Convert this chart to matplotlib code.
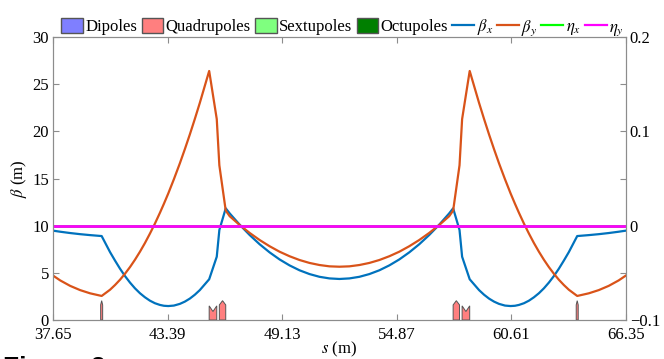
import matplotlib
matplotlib.use("Agg")
import matplotlib.pyplot as plt
from matplotlib.patches import Patch
from matplotlib.lines import Line2D

plt.rcParams['font.family'] = ['Liberation Serif', 'DejaVu Serif']
plt.rcParams['mathtext.fontset'] = 'stix'
plt.rcParams['font.size'] = 12

# optics along the cell (m)
s = [37.65, 38.0, 38.5, 39.0, 39.5, 40.08,
     40.5, 40.75, 41.0, 41.25, 41.5, 41.75, 42.0, 42.25, 42.5, 42.75, 43.0,
     43.2, 43.42, 43.7, 44.0, 44.25, 44.5, 44.75, 45.0, 45.47,
     45.85, 45.98, 46.30,
     46.5, 47.0, 47.5, 48.0, 48.5, 49.0, 49.5, 50.0, 50.5, 51.0, 51.5, 52.0,
     52.5, 53.0, 53.5, 54.0, 54.5, 55.0, 55.5, 56.0, 56.5, 57.0, 57.5,
     57.70, 58.02, 58.15,
     58.53, 59.0, 59.25, 59.5, 59.75, 60.0, 60.3, 60.58, 60.8, 61.0, 61.25,
     61.5, 61.75, 62.0, 62.25, 62.5, 62.75, 63.0, 63.25, 63.5,
     63.92, 64.5, 65.0, 65.5, 66.0, 66.35]
beta_x = [9.47, 9.36, 9.22, 9.10, 9.00, 8.90,
          7.20, 6.30, 5.44, 4.66, 3.97, 3.36, 2.84, 2.41, 2.05, 1.78, 1.60,
          1.51, 1.48, 1.53, 1.71, 1.95, 2.27, 2.68, 3.17, 4.32,
          6.71, 9.54, 11.84,
          11.30, 10.10, 9.01, 8.03, 7.17, 6.42, 5.79, 5.27, 4.87, 4.58, 4.41, 4.35,
          4.41, 4.58, 4.87, 5.27, 5.79, 6.42, 7.17, 8.03, 9.01, 10.10, 11.30,
          11.84, 9.54, 6.71,
          4.32, 3.17, 2.68, 2.27, 1.95, 1.71, 1.53, 1.48, 1.51, 1.60, 1.78,
          2.05, 2.41, 2.84, 3.36, 3.97, 4.66, 5.44, 6.30, 7.20,
          8.90, 9.00, 9.10, 9.22, 9.36, 9.47]
beta_y = [4.70, 4.20, 3.62, 3.17, 2.83, 2.55,
          3.21, 3.71, 4.27, 4.91, 5.61, 6.39, 7.24, 8.16, 9.16, 10.22, 11.36,
          12.32, 13.42, 14.92, 16.61, 18.11, 19.67, 21.31, 23.01, 26.40,
          21.30, 16.40, 11.60,
          11.00, 10.07, 9.23, 8.48, 7.82, 7.24, 6.76, 6.36, 6.05, 5.83, 5.69, 5.65,
          5.69, 5.83, 6.05, 6.36, 6.76, 7.24, 7.82, 8.48, 9.23, 10.07, 11.00,
          11.60, 16.40, 21.30,
          26.40, 23.01, 21.31, 19.67, 18.11, 16.61, 14.92, 13.42, 12.32, 11.36, 10.22,
          9.16, 8.16, 7.24, 6.39, 5.61, 4.91, 4.27, 3.71, 3.21,
          2.55, 2.83, 3.17, 3.62, 4.20, 4.70]
s_eta = [37.65, 66.35]
eta_x = [0.0, 0.0]
eta_y = [0.0, 0.0]

# quadrupoles: start, end, type (F = peaked, D = notched)
quad_start = [40.03, 45.47, 45.98, 57.70, 58.15, 63.87]
quad_end = [40.13, 45.85, 46.30, 58.02, 58.53, 63.97]
quad_type = ['F', 'D', 'F', 'F', 'D', 'F']

xticks = [37.65, 43.39, 49.13, 54.87, 60.61, 66.35]

c_bx = '#0072BD'
c_by = '#D95319'
c_ex = '#00FF00'
c_ey = '#FF00FF'
c_dip = '#7F7FFF'
c_quad = '#FF7F7F'
c_sext = '#7FFF7F'
c_oct = '#007F00'
edge = '#555555'

fig = plt.figure(figsize=(6.64, 3.59), dpi=100)
ax = fig.add_axes([0.0801, 0.1086, 0.8622, 0.7883])

# magnet outlines
for a, b, t in zip(quad_start, quad_end, quad_type):
    m = 0.5 * (a + b)
    if t == 'F':
        xs = [a, a, m, b, b]
        ys = [0, 1.6, 2.05, 1.6, 0]
    else:
        xs = [a, a, m, b, b]
        ys = [0, 1.5, 0.9, 1.5, 0]
    ax.fill(xs, ys, facecolor=c_quad, edgecolor=edge, linewidth=0.7, zorder=1)

ax.plot(s, beta_x, color=c_bx, lw=1.6, zorder=3)
ax.plot(s, beta_y, color=c_by, lw=1.6, zorder=3)

ax.set_xlim(37.65, 66.35)
ax.set_ylim(0, 30)
ax.set_xticks(xticks)
ax.set_xticklabels(['%.2f' % v for v in xticks])
ax.set_yticks([0, 5, 10, 15, 20, 25, 30])
ax.set_xlabel(r'$s$ (m)', labelpad=-2)
ax.set_ylabel(r'$\beta$ (m)', labelpad=2)
ax.tick_params(direction='in', length=4, color='0.55', top=True, right=False)
ax.tick_params(axis='x', pad=5)
ax.tick_params(axis='y', pad=3)

ax2 = ax.twinx()
ax2.plot(s_eta, eta_x, color=c_ex, lw=2.0)
ax2.plot(s_eta, eta_y, color=c_ey, lw=2.0)
ax2.set_ylim(-0.1, 0.2)
ax2.set_yticks([-0.1, -0.05, 0, 0.05, 0.1, 0.15, 0.2])
ax2.set_yticklabels(['\u22120.1', '', '0', '', '0.1', '', '0.2'])
ax2.set_ylabel(r'$\eta$ (m)', labelpad=6)
ax2.tick_params(direction='in', length=4, color='0.55', pad=3)

for axis in (ax, ax2):
    for sp in axis.spines.values():
        sp.set_color('0.55')
        sp.set_linewidth(0.8)

handles = [
    Patch(facecolor=c_dip, edgecolor=edge, label='Dipoles'),
    Patch(facecolor=c_quad, edgecolor=edge, label='Quadrupoles'),
    Patch(facecolor=c_sext, edgecolor=edge, label='Sextupoles'),
    Patch(facecolor=c_oct, edgecolor=edge, label='Octupoles'),
    Line2D([], [], color=c_bx, lw=1.6, label=r'$\beta_x$'),
    Line2D([], [], color=c_by, lw=1.6, label=r'$\beta_y$'),
    Line2D([], [], color=c_ex, lw=1.6, label=r'$\eta_x$'),
    Line2D([], [], color=c_ey, lw=1.6, label=r'$\eta_y$'),
]
fig.legend(handles=handles, loc='center', bbox_to_anchor=(0.516, 0.923),
           ncol=8, frameon=False, handlelength=1.3, handleheight=1.0,
           handletextpad=0.15, columnspacing=0.25, borderaxespad=0)

fig.text(0.005, 0.0084, 'Figure 2', fontsize=19, fontweight='bold',
         family='Liberation Sans', va='top', ha='left')

fig.savefig('out.png', dpi=100)
